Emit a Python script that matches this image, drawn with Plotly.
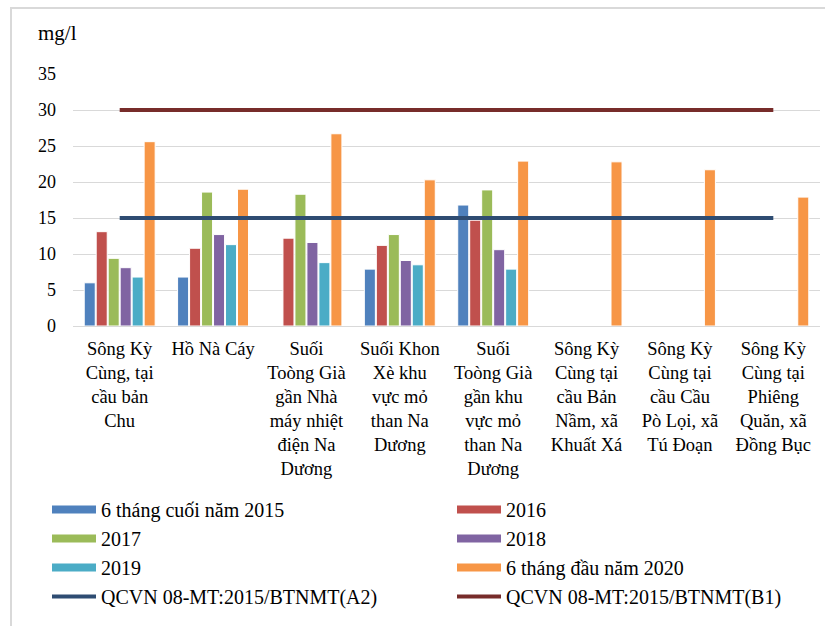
import plotly.graph_objects as go

# Sampling sites (x-axis categories)
sites = [
    "Sông Kỳ<br>Cùng, tại<br>cầu bản<br>Chu",
    "Hồ Nà Cáy",
    "Suối<br>Toòng Già<br>gần Nhà<br>máy nhiệt<br>điện Na<br>Dương",
    "Suối Khon<br>Xè khu<br>vực mỏ<br>than Na<br>Dương",
    "Suối<br>Toòng Già<br>gần khu<br>vực mỏ<br>than Na<br>Dương",
    "Sông Kỳ<br>Cùng tại<br>cầu Bản<br>Nầm, xã<br>Khuất Xá",
    "Sông Kỳ<br>Cùng tại<br>cầu Cầu<br>Pò Lọi, xã<br>Tú Đoạn",
    "Sông Kỳ<br>Cùng tại<br>Phiêng<br>Quăn, xã<br>Đồng Bục",
]

# Measured concentrations (mg/l) per monitoring period
h2_2015 = [6.0, 6.8, None, 7.9, 16.8, None, None, None]
y2016 = [13.1, 10.8, 12.2, 11.2, 14.7, None, None, None]
y2017 = [9.4, 18.6, 18.3, 12.7, 18.9, None, None, None]
y2018 = [8.1, 12.7, 11.6, 9.1, 10.6, None, None, None]
y2019 = [6.8, 11.3, 8.8, 8.5, 7.9, None, None, None]
h1_2020 = [25.6, 19.0, 26.7, 20.3, 22.9, 22.8, 21.7, 17.9]

# Regulation limits QCVN 08-MT:2015/BTNMT
limit_a2 = [15, 15, 15, 15, 15, 15, 15, 15]
limit_b1 = [30, 30, 30, 30, 30, 30, 30, 30]

y_ticks = [0, 5, 10, 15, 20, 25, 30, 35]

FONT = "Liberation Serif"

bar_series = [
    ("6 tháng cuối năm 2015", h2_2015, "#4F81BD", "legend"),
    ("2016", y2016, "#C0504D", "legend2"),
    ("2017", y2017, "#9BBB59", "legend"),
    ("2018", y2018, "#8064A2", "legend2"),
    ("2019", y2019, "#4BACC6", "legend"),
    ("6 tháng đầu năm 2020", h1_2020, "#F79646", "legend2"),
]
line_series = [
    ("QCVN 08-MT:2015/BTNMT(A2)", limit_a2, "#2E4C72", "legend"),
    ("QCVN 08-MT:2015/BTNMT(B1)", limit_b1, "#772C2A", "legend2"),
]

fig = go.Figure()

for name, vals, color, leg in bar_series:
    fig.add_trace(go.Bar(
        x=sites, y=vals, name=name, legendgroup=name, showlegend=False,
        marker=dict(color=color, line=dict(color="white", width=1)),
    ))

# Wide flat swatches for the bar series in the legend
for name, vals, color, leg in bar_series:
    fig.add_trace(go.Scatter(
        x=[None], y=[None], name=name, legendgroup=name, legend=leg,
        mode="lines", line=dict(color=color, width=8),
    ))

for name, vals, color, leg in line_series:
    fig.add_trace(go.Scatter(
        x=sites, y=vals, name=name, legendgroup=name, legend=leg,
        mode="lines", line=dict(color=color, width=4),
    ))

legend_common = dict(
    xref="container", yref="container", xanchor="left", yanchor="top",
    y=1 - 490 / 626, font=dict(family=FONT, size=20, color="black"),
    itemwidth=44, tracegroupgap=0, bgcolor="rgba(0,0,0,0)",
    traceorder="normal",
)

fig.update_layout(
    width=825, height=626,
    margin=dict(l=73, r=5, t=74, b=300, autoexpand=False),
    paper_bgcolor="white", plot_bgcolor="white",
    font=dict(family=FONT, size=18, color="black"),
    barmode="group", bargap=0.23, bargroupgap=0.08,
    legend=dict(x=47 / 825, **legend_common),
    legend2=dict(x=452 / 825, **legend_common),
    xaxis=dict(
        type="category", categoryorder="array", categoryarray=sites,
        showgrid=False, showline=False, zeroline=False, ticks="",
        tickfont=dict(family=FONT, size=18.5, color="black"),
        tickangle=0, ticklabelstandoff=9, automargin=False,
    ),
    yaxis=dict(
        range=[0, 35], tickvals=y_ticks, ticktext=[str(v) for v in y_ticks],
        showgrid=True, gridcolor="#D9D9D9", gridwidth=1,
        zeroline=True, zerolinecolor="#D9D9D9", zerolinewidth=1,
        showline=False, ticks="", ticklabelstandoff=16, automargin=False,
        tickfont=dict(family=FONT, size=18, color="black"),
    ),
    annotations=[dict(
        text="mg/l", xref="paper", yref="paper",
        x=(36 - 73) / 747, y=(326 - 33) / 252, xanchor="left", yanchor="middle",
        showarrow=False, font=dict(family=FONT, size=21, color="black"),
    )],
    shapes=[dict(
        type="rect", xref="paper", yref="paper",
        x0=(11 - 73) / 747, x1=(840 - 73) / 747,
        y0=(326 - 650) / 252, y1=(326 - 8) / 252,
        line=dict(color="#D9D9D9", width=2), fillcolor="rgba(0,0,0,0)",
        layer="below",
    )],
)

fig.write_html("out.html")
